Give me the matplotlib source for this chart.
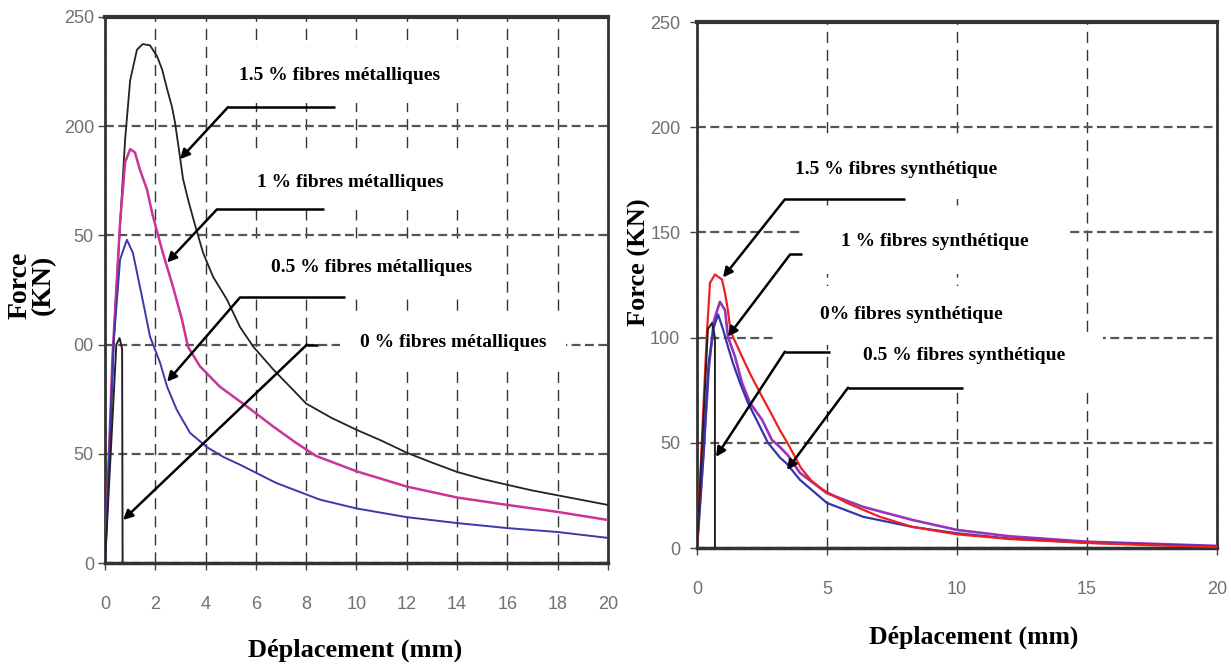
import matplotlib.pyplot as plt
from matplotlib.patches import Rectangle

# ---- données : gauche (fibres métalliques) ----
x_met_15 = [0, 0.4, 0.65, 0.8, 1.0, 1.27, 1.5, 1.79, 2.07, 2.27, 2.47, 2.66, 2.78, 2.98, 3.1, 3.3, 3.55,
            3.9, 4.3, 4.85, 5.37, 5.9, 6.7, 7.5, 8.0, 9.0, 10, 11, 12, 13, 14, 15, 16, 17, 18, 19, 20]
f_met_15 = [0, 115, 165, 194, 221, 235, 237.6, 237, 232, 226, 217, 209, 202, 186, 176, 166.5, 156,
            142, 131, 120.6, 108, 99, 88.5, 79, 73, 66.5, 61, 56, 50.5, 46, 41.7, 38.5, 35.8, 33.2, 31, 28.8, 26.6]

x_met_10 = [0, 0.3, 0.6, 0.8, 1.0, 1.19, 1.39, 1.67, 1.9, 2.3, 2.7, 3.06, 3.3, 3.78, 4.57, 5.65, 6.7, 7.6,
            8.4, 10, 12, 14, 16, 18, 20]
f_met_10 = [0, 95, 156, 183.5, 189.5, 188, 180, 171, 159, 142, 126.6, 111.5, 99, 90, 80.7, 71.6, 62.4, 55,
            49, 42, 35, 30, 26.6, 23.4, 19.7]

x_met_05 = [0, 0.33, 0.6, 0.87, 1.11, 1.47, 1.79, 2.19, 2.47, 2.86, 3.38, 4.06, 4.7, 5.37, 6.8, 8.55,
            10, 12, 14, 16, 18, 20]
f_met_05 = [0, 99, 139, 148, 142, 122, 103.7, 91.7, 80.7, 70, 59.6, 53, 48.6, 45, 36.7, 29,
            25, 21, 18.3, 16, 14.2, 11.5]

x_met_0 = [0, 0.45, 0.58, 0.68, 0.7]
f_met_0 = [0, 100, 103, 98, 0]

# ---- données : droite (fibres synthétiques) ----
x_syn_15 = [0, 0.23, 0.38, 0.5, 0.69, 0.96, 1.08, 1.19, 1.27, 1.38, 1.73, 2.1, 2.5, 2.92, 3.19, 3.5, 4.0,
            4.4, 4.85, 5.77, 7.04, 8.3, 10, 12, 15, 17.5, 20]
f_syn_15 = [0, 62, 102, 126, 130, 127.6, 121, 113, 105, 100.5, 91, 81.4, 72, 62.4, 56, 49.5, 38,
            32, 27.6, 21.4, 14.8, 10, 6.5, 4.3, 2.4, 1.3, 0.5]

x_syn_10 = [0, 0.25, 0.45, 0.65, 0.88, 1.08, 1.15, 1.19, 1.46, 1.73, 2.04, 2.5, 2.88, 3.19, 3.5, 3.96,
            5.0, 6.4, 8.3, 10, 12, 15, 20]
f_syn_10 = [0, 45, 85, 108, 117, 113, 105, 100.5, 91, 78.6, 69, 61, 51.4, 48, 44, 35.7,
            26, 19.5, 13.3, 8.6, 5.6, 3, 1]

x_syn_05 = [0, 0.25, 0.45, 0.65, 0.81, 1.0, 1.19, 1.38, 1.65, 1.96, 2.35, 2.73, 3.19, 3.46, 3.96,
            5.0, 6.4, 8.3, 10, 12, 15, 20]
f_syn_05 = [0, 45, 88, 105, 111, 104, 95.7, 88, 78.6, 69, 59.5, 50, 43, 40, 32.4,
            21.4, 14.8, 10, 7, 4.5, 2.5, 0.8]

x_syn_0 = [0, 0.42, 0.58, 0.69, 0.69]
f_syn_0 = [0, 104, 107, 100, 0]

left_xticks = list(range(0, 21, 2))
left_yticks = [0, 50, 100, 150, 200, 250]
left_ylabels = ['0', '50', '00', '50', '200', '250']
right_xticks = [0, 5, 10, 15, 20]
right_yticks = [0, 50, 100, 150, 200, 250]

plt.rcParams['font.family'] = ['Liberation Serif', 'DejaVu Serif']
tick_font = ['Liberation Sans Narrow', 'Liberation Sans', 'DejaVu Sans']

fig = plt.figure(figsize=(12.31, 6.71), dpi=100)
ax1 = fig.add_axes([0.0853, 0.1609, 0.4086, 0.8138])
ax2 = fig.add_axes([0.5662, 0.1833, 0.4224, 0.7839])


def style_axes(ax, xticks, yticks, ypad):
    ax.set_xlim(0, 20)
    ax.set_ylim(0, 250)
    ax.set_xticks(xticks)
    ax.set_yticks(yticks)
    ax.set_axisbelow(True)
    ax.yaxis.grid(True, linestyle=(0, (4, 2)), color='#555555', lw=1.6)
    ax.xaxis.grid(True, linestyle=(0, (8, 5)), color='#333333', lw=1.0)
    for s in ax.spines.values():
        s.set_linewidth(2)
        s.set_color('#333333')
    ax.spines['top'].set_linewidth(3)
    ax.spines['bottom'].set_linewidth(2.5)
    ax.tick_params(labelsize=13, labelcolor='#707070', labelfontfamily=tick_font,
                   length=5, width=1, color='#444444')
    ax.tick_params(axis='x', pad=19)
    ax.tick_params(axis='y', pad=ypad)


style_axes(ax1, left_xticks, left_yticks, 3)
ax1.set_yticklabels(left_ylabels)
style_axes(ax2, right_xticks, right_yticks, 7)

# courbes
ax1.plot(x_met_15, f_met_15, color='#222222', lw=1.3, zorder=3)
ax1.plot(x_met_10, f_met_10, color='#cc3399', lw=1.8, zorder=3)
ax1.plot(x_met_05, f_met_05, color='#3a3aaa', lw=1.4, zorder=3)
ax1.plot(x_met_0, f_met_0, color='#222222', lw=1.4, zorder=3)

ax2.plot(x_syn_10, f_syn_10, color='#9933bb', lw=1.9, zorder=3)
ax2.plot(x_syn_05, f_syn_05, color='#3535aa', lw=1.6, zorder=3)
ax2.plot(x_syn_15, f_syn_15, color='#ee2020', lw=1.6, zorder=3)
ax2.plot(x_syn_0, f_syn_0, color='#222222', lw=1.4, zorder=3)

# masques blancs derrière les textes (droite)
for x0, y0, x1, y1 in [(3.96, 165.7, 11.65, 196.7), (3.96, 130, 14.27, 161),
                       (3.08, 96.7, 13.58, 124.3), (5.5, 75.2, 15.6, 102.4)]:
    ax2.add_patch(Rectangle((x0, y0), x1 - x0, y1 - y0, fc='white', ec='none', zorder=1.5))

txt = dict(fontsize=14, fontweight='bold', ha='center', va='center', zorder=5)
box = dict(boxstyle='square,pad=1.0', fc='white', ec='none')

ax1.text(9.34, 223.4, '1.5 % fibres métalliques', bbox=box, **txt)
ax1.text(9.74, 174.3, '1 % fibres métalliques', bbox=box, **txt)
ax1.text(10.58, 135.3, '0.5 % fibres métalliques', bbox=box, **txt)
ax1.text(13.84, 100.9, '0 % fibres métalliques', bbox=box, **txt)

ax2.text(7.65, 180, '1.5 % fibres synthétique', **txt)
ax2.text(9.15, 145.7, '1 % fibres synthétique', **txt)
ax2.text(8.23, 111, '0% fibres synthétique', **txt)
ax2.text(10.27, 91.4, '0.5 % fibres synthétique', **txt)

# flèches : (début x, y, fin du trait horizontal x, pointe x, pointe y)
arrow_kw = dict(arrowstyle='-|>', color='black', lw=1.8, mutation_scale=14, shrinkA=0, shrinkB=0)
left_arrows = [(4.89, 208.7, 9.15, 2.98, 184.9),
               (4.45, 161.9, 8.71, 2.47, 137.6),
               (5.37, 121.6, 9.54, 2.47, 83.0),
               (8.03, 100.0, 8.47, 0.72, 19.7)]
right_arrows = [(3.38, 165.7, 8.0, 1.0, 128.6),
                (3.58, 139.5, 4.04, 1.19, 100.5),
                (3.38, 93.3, 5.12, 0.73, 43.3),
                (5.81, 76.2, 10.23, 3.46, 37.1)]
for ax, arrows in [(ax1, left_arrows), (ax2, right_arrows)]:
    for x0, y0, x1, xt, yt in arrows:
        ax.plot([x0, x1], [y0, y0], color='black', lw=1.8, zorder=6, solid_capstyle='butt')
        ax.annotate('', xy=(xt, yt), xytext=(x0, y0), arrowprops=arrow_kw, zorder=6)

# titres des axes
lab = dict(fontweight='bold', ha='center', va='center')
fig.text(0.2884, 0.0313, 'Déplacement (mm)', fontsize=19, **lab)
fig.text(0.7912, 0.0507, 'Déplacement (mm)', fontsize=18.5, **lab)
fig.text(0.026, 0.575, 'Force\n(KN)', fontsize=20, rotation=90, linespacing=0.9, **lab)
fig.text(0.5195, 0.6095, 'Force (KN)', fontsize=19, rotation=90, **lab)

fig.savefig('out.png', dpi=100)
